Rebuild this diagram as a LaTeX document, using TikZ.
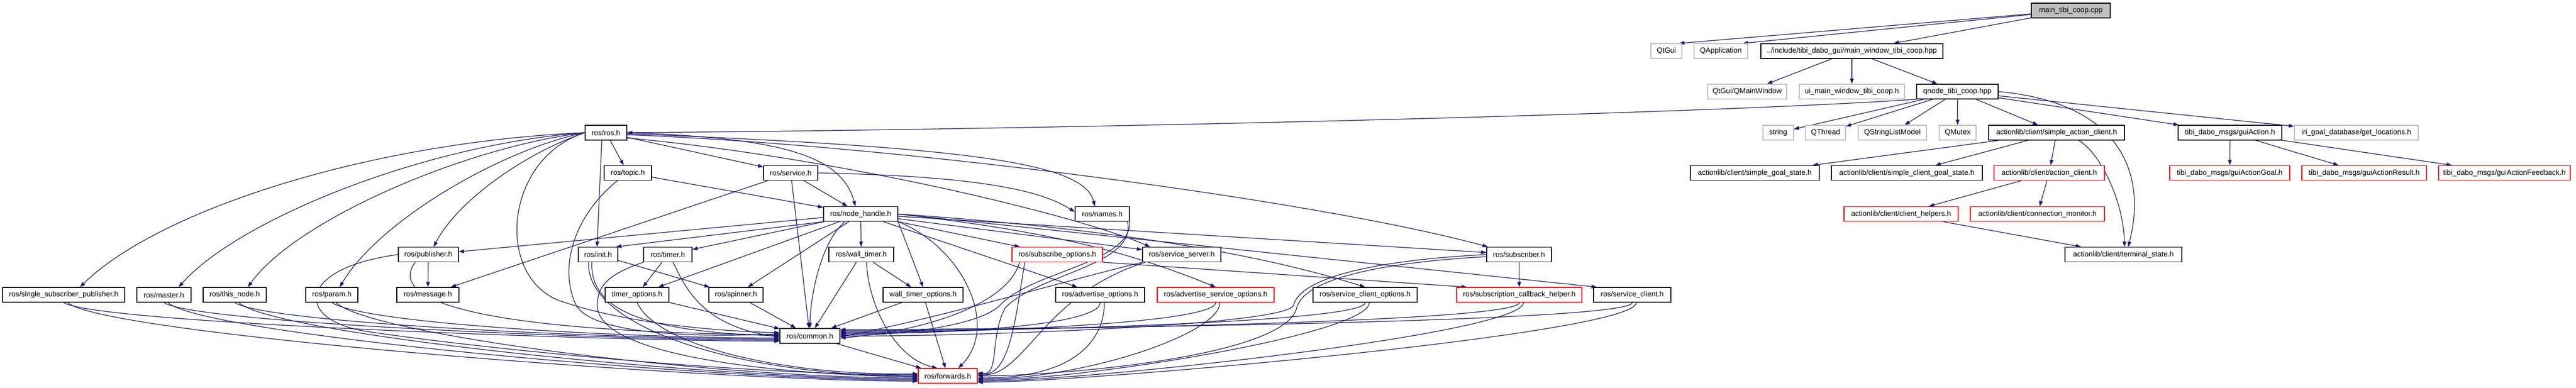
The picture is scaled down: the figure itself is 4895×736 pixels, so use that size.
\documentclass[tikz,border=0pt]{standalone}
\usepackage{fontspec}
\setmainfont{Liberation Sans}
\usetikzlibrary{arrows.meta}
\definecolor{edgeblue}{HTML}{191970}
\definecolor{extgray}{HTML}{BFBFBF}
\definecolor{rootgray}{HTML}{BFBFBF}
\newcommand\nodefont{\fontsize{14pt}{16pt}\selectfont}
\newcommand\nd[6]{\node[#1, minimum width={(#4-#3)*1pt}] (#2) at ({(#3+#4)/2},#5) {#6};}
\pgfdeclarelayer{bg}
\pgfsetlayers{bg,main}
\tikzset{
  box/.style={draw=black, fill=white, line width=1.3pt, minimum height=28pt, inner sep=0pt, font=\nodefont},
  ext/.style={box, draw=extgray},
  trunc/.style={box, draw=red},
  root/.style={box, fill=rootgray},
  e/.style={draw=edgeblue, line width=1.25pt, -{Triangle[length=10pt,width=7pt]}}
}
\begin{document}
\begin{tikzpicture}[x=1pt,y=-1pt]
\useasboundingbox (0,0) rectangle (4895,736);
\def\ra{20}\def\rb{97}\def\rc{174}\def\rd{252}\def\re{328.5}\def\rf{406.5}\def\rg{483.5}\def\rh{560}\def\ri{638}\def\rj{714}
% row 0-2
\nd{root}{main}{3860}{4010}{\ra}{main\_tibi\_coop.cpp}
\nd{ext}{qtgui}{3137}{3196}{\rb}{QtGui}
\nd{ext}{qapp}{3219}{3321}{\rb}{QApplication}
\nd{box}{inc}{3346}{3692}{\rb}{../include/tibi\_dabo\_gui/main\_window\_tibi\_coop.hpp}
\nd{ext}{qmw}{3245}{3395}{\rc}{QtGui/QMainWindow}
\nd{ext}{ui}{3419}{3619}{\rc}{ui\_main\_window\_tibi\_coop.h}
\nd{box}{qnode}{3642}{3797}{\rc}{qnode\_tibi\_coop.hpp}
% row 3
\nd{box}{rosh}{1112}{1191}{\rd}{ros/ros.h}
\nd{ext}{string}{3350}{3408}{\rd}{string}
\nd{ext}{qthread}{3431}{3507}{\rd}{QThread}
\nd{ext}{qslm}{3531}{3661}{\rd}{QStringListModel}
\nd{ext}{qmutex}{3685}{3755}{\rd}{QMutex}
\nd{box}{sac}{3779}{4037}{\rd}{actionlib/client/simple\_action\_client.h}
\nd{box}{gui}{4139}{4336}{\rd}{tibi\_dabo\_msgs/guiAction.h}
\nd{ext}{getloc}{4360}{4595}{\rd}{iri\_goal\_database/get\_locations.h}
% row 4
\nd{box}{topic}{1148}{1238}{\re}{ros/topic.h}
\nd{box}{service}{1451}{1554}{\re}{ros/service.h}
\nd{box}{sgs}{3212}{3457}{\re}{actionlib/client/simple\_goal\_state.h}
\nd{box}{scgs}{3480}{3767}{\re}{actionlib/client/simple\_client\_goal\_state.h}
\nd{trunc}{ac}{3789}{3999}{\re}{actionlib/client/action\_client.h}
\nd{trunc}{goal}{4123}{4351}{\re}{tibi\_dabo\_msgs/guiActionGoal.h}
\nd{trunc}{result}{4374}{4611}{\re}{tibi\_dabo\_msgs/guiActionResult.h}
\nd{trunc}{feedback}{4634}{4884}{\re}{tibi\_dabo\_msgs/guiActionFeedback.h}
% row 5
\nd{box}{nh}{1565}{1706}{\rf}{ros/node\_handle.h}
\nd{box}{names}{2043}{2146}{\rf}{ros/names.h}
\nd{trunc}{ch}{3504}{3721}{\rf}{actionlib/client/client\_helpers.h}
\nd{trunc}{cm}{3744}{3999}{\rf}{actionlib/client/connection\_monitor.h}
% row 6
\nd{box}{pub}{757}{871}{\rg}{ros/publisher.h}
\nd{box}{init}{1099}{1174}{\rg}{ros/init.h}
\nd{box}{timer}{1223}{1315}{\rg}{ros/timer.h}
\nd{box}{wt}{1575}{1698}{\rg}{ros/wall\_timer.h}
\nd{trunc}{so}{1923}{2095}{\rg}{ros/subscribe\_options.h}
\nd{box}{ss}{2171}{2320}{\rg}{ros/service\_server.h}
\nd{box}{sub}{2825}{2948}{\rg}{ros/subscriber.h}
\nd{box}{term}{3924}{4146}{\rg}{actionlib/client/terminal\_state.h}
% row 7
\nd{box}{ssp}{5}{237}{\rh}{ros/single\_subscriber\_publisher.h}
\nd{box}{master}{260}{363}{\rh}{ros/master.h}
\nd{box}{thisnode}{386}{506}{\rh}{ros/this\_node.h}
\nd{box}{param}{581}{680}{\rh}{ros/param.h}
\nd{box}{message}{754}{872}{\rh}{ros/message.h}
\nd{box}{to}{1150}{1271}{\rh}{timer\_options.h}
\nd{box}{spinner}{1347}{1450}{\rh}{ros/spinner.h}
\nd{box}{wto}{1678}{1830}{\rh}{wall\_timer\_options.h}
\nd{box}{ao}{2006}{2175}{\rh}{ros/advertise\_options.h}
\nd{trunc}{aso}{2199}{2421}{\rh}{ros/advertise\_service\_options.h}
\nd{box}{sco}{2495}{2693}{\rh}{ros/service\_client\_options.h}
\nd{trunc}{sch}{2768}{3006}{\rh}{ros/subscription\_callback\_helper.h}
\nd{box}{sc}{3028}{3175}{\rh}{ros/service\_client.h}
% row 8-9
\nd{box}{common}{1482}{1596}{\ri}{ros/common.h}
\nd{trunc}{fwd}{1745}{1857}{\rj}{ros/forwards.h}

\begin{pgfonlayer}{bg}
\fill[white] (0,0) rectangle (4895,736);
% --- upper part
\draw[e] (main) -- ([xshift=-6pt]qtgui.north east);
\draw[e] (main) -- ([xshift=-10pt]qapp.north east);
\foreach \a/\b in {main/inc,inc/qmw,inc/ui,inc/qnode,
  qnode/string,qnode/qthread,qnode/qslm,qnode/qmutex,qnode/sac,qnode/gui,qnode/getloc,
  sac/sgs,sac/scgs,sac/ac,ac/ch,ac/cm,ch/term,gui/goal,gui/result,gui/feedback}
  {\draw[e] (\a) -- (\b);}
\draw[e] (qnode.east) .. controls (4030,195) and (4080,330) .. ([xshift=9pt]term.north);
\draw[e] ([xshift=42pt]sac.south) .. controls (3990,290) and (4035,380) .. ([xshift=2pt]term.north);
\draw[e] (qnode.south west) .. controls (3200,218) and (2000,246) .. (rosh.east);
% --- ros.h
\draw[e] (rosh) -- (topic);
\draw[e] (rosh) -- (service);
\draw[e] ([xshift=-8pt]rosh.south) -- ([xshift=-2pt]init.north);
\draw[e] (rosh.west) .. controls (700,270) and (300,400) .. ([xshift=31pt]ssp.north);
\draw[e] (rosh.west) .. controls (800,275) and (450,420) .. ([xshift=28pt]master.north);
\draw[e] (rosh.west) .. controls (880,280) and (560,420) .. ([xshift=25pt]thisnode.north);
\draw[e] (rosh.west) .. controls (950,285) and (720,420) .. ([xshift=15pt]param.north);
\draw[e] (rosh.west) .. controls (1000,290) and (870,380) .. ([xshift=10pt]pub.north);
\draw[e] (rosh.west) .. controls (960,300) and (940,520) .. (1060,570) .. controls (1200,620) and (1400,630) .. ([yshift=6pt]common.west);
\draw[e] (rosh.east) .. controls (1500,262) and (1600,300) .. ([xshift=-10pt]nh.north);
\draw[e] ([yshift=-2pt]rosh.east) .. controls (1850,280) and (2060,310) .. ([xshift=-14pt]names.north);
\draw[e] ([yshift=-4pt]rosh.east) .. controls (1700,275) and (2500,380) .. ([xshift=3pt]sub.north west);
\draw[e] ([yshift=-10pt]rosh.east) .. controls (1600,300) and (2050,410) .. ([xshift=-60pt]ss.north);
% --- topic, service
\draw[e] (topic) -- (nh);
\draw[e] ([xshift=-20pt]topic.south) .. controls (1080,420) and (1065,520) .. (1095,580) .. controls (1130,640) and (1350,640) .. ([yshift=4pt]common.west);
\draw[e] (service) -- (nh);
\draw[e] (service) -- (common);
\draw[e] (service) -- (message);
\draw[e] (service.east) .. controls (1900,335) and (1990,370) .. ([yshift=4pt]names.west);
% --- node_handle
\draw[e] (nh) -- (pub);
\draw[e] (nh.south west) -- ([xshift=-4pt]init.north east);
\draw[e] (nh) -- (timer);
\draw[e] (nh) -- (to);
\draw[e] (nh) -- (spinner);
\draw[e] (nh) -- (wt);
\draw[e] (nh.south east) -- (wto.north);
\draw[e] (nh) -- (so);
\draw[e] (nh) -- (ss);
\draw[e] (nh) -- (sub);
\draw[e] (nh) -- (ao);
\draw[e] (nh.east) .. controls (2000,440) and (2150,480) .. (aso.north);
\draw[e] (nh.east) .. controls (2200,440) and (2450,500) .. (sco.north);
\draw[e] (nh.east) -- ([xshift=7pt]sc.north west);
\draw[e] ([xshift=-30pt]nh.south) .. controls (1560,460) and (1540,560) .. (common.north);
\draw[e] (nh.south east) .. controls (1830,470) and (1900,620) .. ([xshift=20pt]fwd.north);
% --- publisher, init, timer, wall_timer
\draw[e] (pub) -- (message);
\draw[e] ([xshift=-25pt]pub.south) .. controls (735,570) and (900,630) .. ([yshift=2pt]common.west);
\draw[e] (pub.west) .. controls (560,510) and (560,610) .. (700,630) .. controls (900,660) and (1400,712) .. ([yshift=2pt]fwd.west);
\draw[e] (init) -- (spinner);
\draw[e] ([xshift=-12pt]init.south) .. controls (1122,580) and (1200,630) .. ([yshift=0pt]common.west);
\draw[e] ([xshift=-18pt]init.south) .. controls (1112,620) and (1400,714) .. ([yshift=0pt]fwd.west);
\draw[e] (timer) -- (to);
\draw[e] ([xshift=10pt]timer.south) .. controls (1300,540) and (1330,620) .. ([yshift=-2pt]common.west);
\draw[e] (timer.south west) .. controls (1160,520) and (1135,540) .. (1135,580) .. controls (1135,680) and (1500,712) .. ([yshift=-2pt]fwd.west);
\draw[e] (wt) -- (wto);
\draw[e] (wt) -- (common);
\draw[e] ([xshift=10pt]wt.south) .. controls (1650,580) and (1700,680) .. ([xshift=-20pt]fwd.north);
% --- subscribe_options, service_server, subscriber, names
\draw[e] (so.south east) -- ([xshift=20pt]sch.north west);
\draw[e] ([xshift=15pt]so.south west) .. controls (1915,580) and (1750,630) .. ([yshift=-4pt]common.east);
\draw[e] ([xshift=25pt]so.south west) .. controls (1930,600) and (1920,714) .. ([yshift=4pt]fwd.east);
\draw[e] (ss.south west) .. controls (2000,540) and (1800,600) .. ([yshift=-2pt]common.east);
\draw[e] ([xshift=6pt]ss.south west) .. controls (1980,560) and (1950,714) .. ([yshift=2pt]fwd.east);
\draw[e] (sub) -- (sch);
\draw[e] (sub.west) .. controls (2600,495) and (2470,530) .. (2458,580) .. controls (2440,620) and (1800,640) .. ([yshift=0pt]common.east);
\draw[e] ([yshift=-4pt]sub.west) .. controls (2600,500) and (2476,535) .. (2464,585) .. controls (2440,680) and (2000,714) .. ([yshift=0pt]fwd.east);
\draw[e] (names.south east) .. controls (2150,500) and (1960,515) .. (1900,580) .. controls (1860,620) and (1700,638) .. ([yshift=2pt]common.east);
\draw[e] ([xshift=-4pt]names.south east) .. controls (2160,505) and (1970,520) .. (1910,585) .. controls (1880,640) and (1900,714) .. ([yshift=6pt]fwd.east);
% --- row 7 right side
\foreach \s/\d in {ao/4,aso/6,sco/8,sch/10,sc/12}{
  \draw[e] (\s.south) .. controls +(0,40) and +(250,0) .. ([yshift=\d pt]common.east);
  \draw[e] ([xshift=8pt]\s.south) .. controls +(0,60) and +(200,0) .. ([yshift=-\d pt]fwd.east);
}
% --- row 7 left side
\foreach \s/\d in {ssp/-10,master/-8,thisnode/-6,param/-4}{
  \draw[e] (\s.south) .. controls +(60,40) and +(-300,0) .. ([yshift=\d pt]common.west);
  \draw[e] ([xshift=8pt]\s.south) .. controls +(60,60) and +(-400,0) .. ([yshift=\d pt]fwd.west);
}
\draw[e] (to) -- (common);
\draw[e] (to.south) .. controls (1250,660) and (1500,714) .. ([yshift=4pt]fwd.west);
\draw[e] (spinner) -- (common);
\draw[e] (wto) -- (common);
\draw[e] (wto) -- (fwd);
\draw[e] (common) -- (fwd);
\end{pgfonlayer}
\end{tikzpicture}
\end{document}
